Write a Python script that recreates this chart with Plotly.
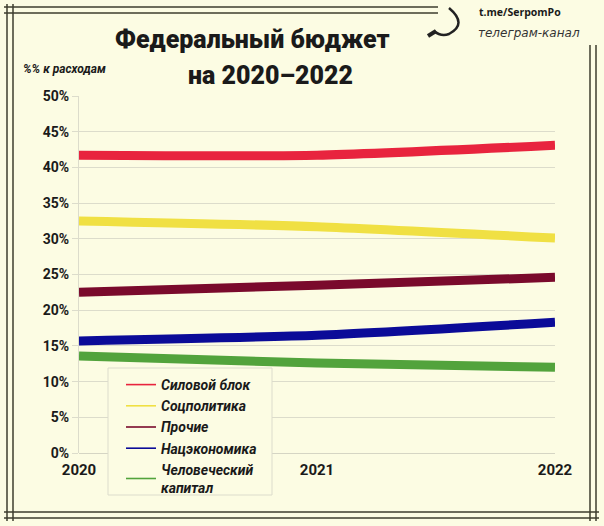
import plotly.graph_objects as go

years = [2020, 2021, 2022]
series_names = ["Силовой блок", "Соцполитика", "Прочие", "Нацэкономика", "Человеческий капитал"]
legend_labels = ["Силовой блок", "Соцполитика", "Прочие", "Нацэкономика", "Человеческий<br>капитал"]
silovoy = [41.7, 41.7, 43.1]
socpolitika = [32.5, 31.7, 30.1]
prochie = [22.5, 23.5, 24.6]
naceconomika = [15.7, 16.5, 18.3]
chel_kapital = [13.6, 12.6, 12.0]
series_values = [silovoy, socpolitika, prochie, naceconomika, chel_kapital]
colors = ["#e8243e", "#f0e043", "#7a0a2c", "#0b0b98", "#52a33c"]
y_ticks = [0, 5, 10, 15, 20, 25, 30, 35, 40, 45, 50]
y_tick_labels = [f"{v}%" for v in y_ticks]

W, H = 604, 526
L, R, T, B = 79, 49, 96, 73
PW, PH = W - L - R, H - T - B

def px(x):
    return (x - L) / PW

def py(y):
    return (H - B - y) / PH

bg = "#fcfce3"
fig = go.Figure()

for name, vals, col in zip(series_names, series_values, colors):
    fig.add_trace(go.Scatter(x=years, y=vals, mode="lines", name=name,
                             line=dict(color=col, width=9, shape="spline", smoothing=0.6),
                             showlegend=False, legendgroup=name, hoverinfo="x+y"))
for lab, name, col in zip(legend_labels, series_names, colors):
    fig.add_trace(go.Scatter(x=[None], y=[None], mode="lines", name=lab,
                             line=dict(color=col, width=1.6), legendgroup=name))

shapes = []
frame_col = "#3e3e2e"
def seg(x0, y0, x1, y1, w=1.5, c=frame_col):
    shapes.append(dict(type="line", xref="paper", yref="paper",
                       x0=px(x0), y0=py(y0), x1=px(x1), y1=py(y1),
                       line=dict(color=c, width=w), layer="above"))

# double frame with interlaced corners
seg(7, 4, 7, 521); seg(13, 4, 13, 521)
seg(4, 512, 599, 512); seg(4, 518, 599, 518)
seg(590, 45, 590, 521); seg(596, 45, 596, 521)
seg(4, 7, 438, 7); seg(4, 13, 438, 13)

# legend box
shapes.append(dict(type="rect", xref="paper", yref="paper",
                   x0=px(108), y0=py(368), x1=px(272), y1=py(495),
                   fillcolor=bg, line=dict(color="#dcdccc", width=1), layer="above"))

# sickle watermark
shapes.append(dict(type="path", xref="paper", yref="paper",
                   path=f"M {px(449)} {py(8)} Q {px(468)} {py(24)} {px(449)} {py(34)} Q {px(441)} {py(37)} {px(434)} {py(31)}",
                   line=dict(color="#222222", width=2.5), layer="above"))
shapes.append(dict(type="line", xref="paper", yref="paper",
                   x0=px(428), y0=py(36), x1=px(436), y1=py(31),
                   line=dict(color="#222222", width=4), layer="above"))

annotations = [
    dict(text="Федеральный бюджет", x=px(252), y=py(40), xref="paper", yref="paper",
         showarrow=False, font=dict(family="Roboto", size=25, color="#1a1a1a", weight=900), xanchor="center", yanchor="middle"),
    dict(text="на 2020–2022", x=px(270), y=py(75), xref="paper", yref="paper",
         showarrow=False, font=dict(family="Roboto", size=25, color="#1a1a1a", weight=900), xanchor="center", yanchor="middle"),
    dict(text="<b><i>%% к расходам</i></b>", x=px(21), y=py(69), xref="paper", yref="paper",
         showarrow=False, font=dict(family="Roboto", size=12, color="#1a1a1a"), xanchor="left", yanchor="middle"),
    dict(text="<b>t.me/SerpomPo</b>", x=px(477), y=py(12), xref="paper", yref="paper",
         showarrow=False, font=dict(family="Open Sans", size=10.5, color="#1a1a1a"), xanchor="left", yanchor="middle"),
    dict(text="<i>телеграм-канал</i>", x=px(476), y=py(33), xref="paper", yref="paper",
         showarrow=False, font=dict(family="DejaVu Sans", size=12, color="#333333"), xanchor="left", yanchor="middle"),
]

fig.update_layout(
    width=W, height=H,
    margin=dict(l=L, r=R, t=T, b=B),
    paper_bgcolor=bg, plot_bgcolor=bg,
    font=dict(family="Roboto", color="#1a1a1a"),
    shapes=shapes, annotations=annotations,
    legend=dict(x=px(121), y=py(369), xanchor="left", yanchor="top",
                bgcolor="rgba(0,0,0,0)", borderwidth=0,
                font=dict(family="Roboto", size=14, color="#1a1a1a", style="italic", weight="bold"),
                itemclick=False, tracegroupgap=0),
    xaxis=dict(range=[2020, 2022], tickvals=years, ticktext=[str(y) for y in years],
               showgrid=False, zeroline=False, showline=False,
               tickfont=dict(family="Roboto", size=15, weight="bold", color="#1a1a1a"),
               ticks="", ticklabelstandoff=6),
    yaxis=dict(range=[0, 50], tickvals=y_ticks, ticktext=y_tick_labels,
               showgrid=True, gridcolor="#dcdccb", gridwidth=1.2,
               zeroline=True, zerolinecolor="#d5d5c4", zerolinewidth=1.2,
               showline=True, linecolor="#dcdccb", linewidth=1.2,
               ticks="outside", ticklen=6, tickcolor="#dcdccb",
               tickfont=dict(family="Roboto", size=14, weight="bold", color="#1a1a1a")),
)

fig.write_html("out.html", post_script="document.body.style.margin='0';",
               config={"displayModeBar": False})
